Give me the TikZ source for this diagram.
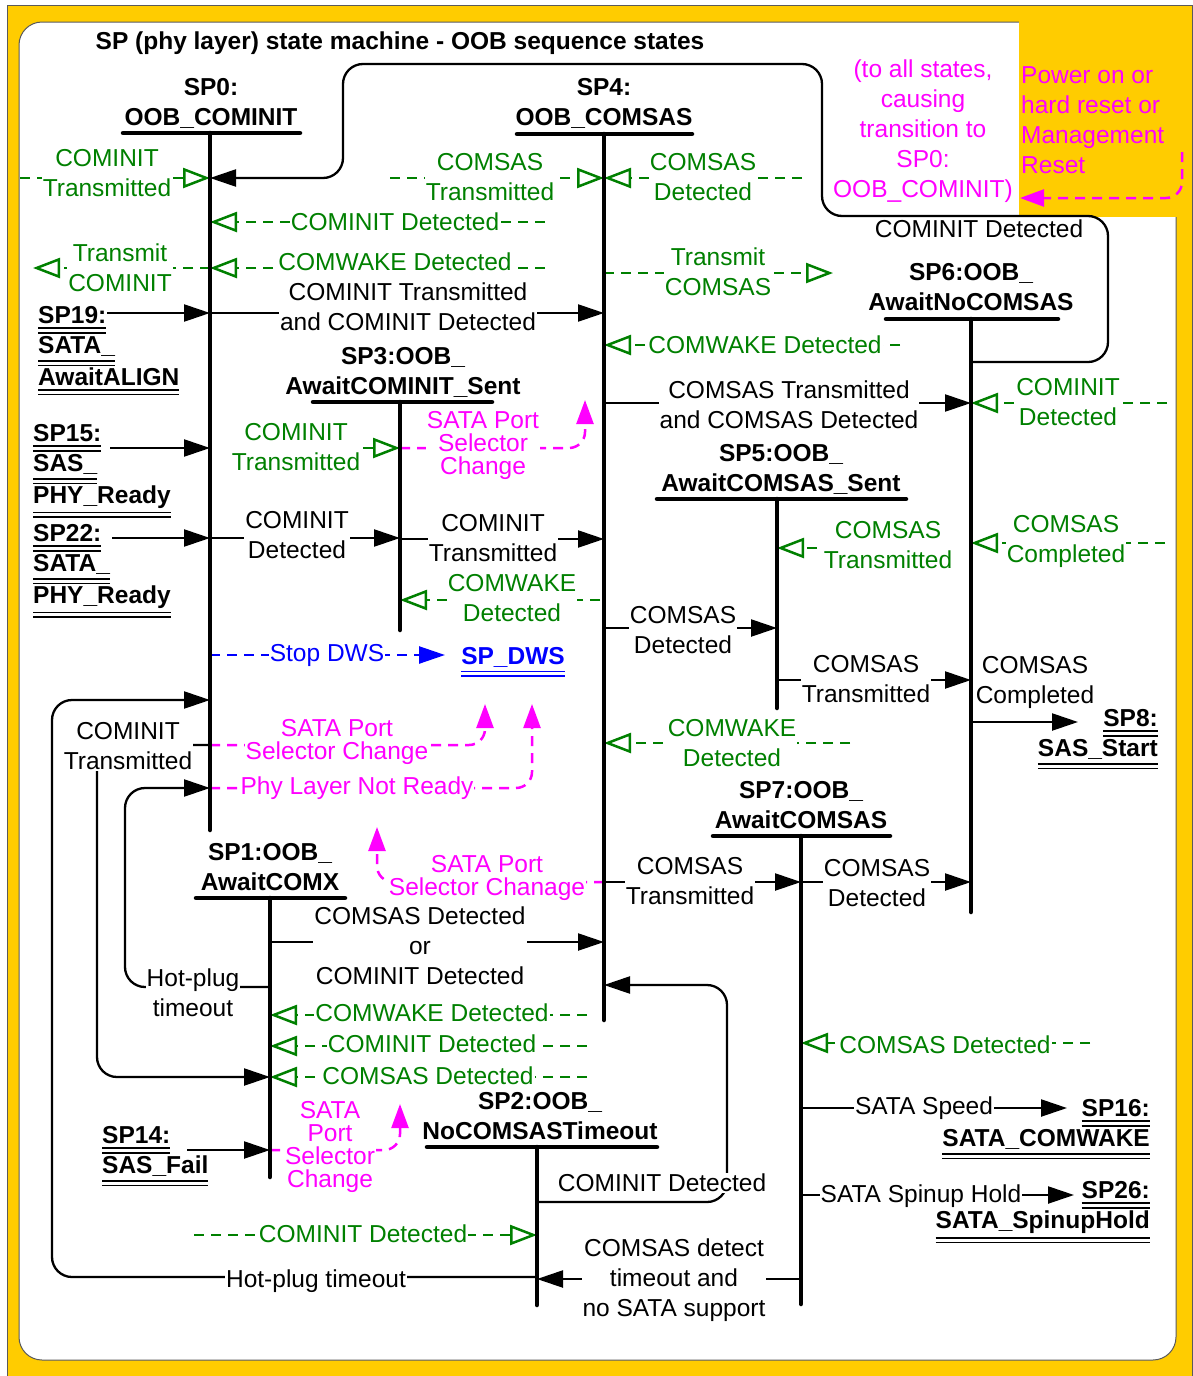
\documentclass[tikz,border=0pt]{standalone}
\usepackage{fontspec}
\setmainfont{Liberation Sans}
\usetikzlibrary{arrows.meta}
\definecolor{gold}{HTML}{FFCC00}
\definecolor{dgreen}{HTML}{008000}
\definecolor{mag}{HTML}{FF00FF}
\definecolor{blu}{HTML}{0000FF}
\definecolor{bord}{HTML}{5A5A5A}
\newcommand{\dul}[1]{\vtop{\hbox{#1}\kern3.6pt\hrule height 1.7pt\kern3pt\hrule height 1.7pt}}
\begin{document}
\begin{tikzpicture}[x=1pt,y=-1pt,
  txt/.style={font=\fontsize{24.5}{30}\selectfont, align=center, inner sep=1pt},
  lab/.style={txt, fill=white},
  glab/.style={lab, text=dgreen},
  mlab/.style={txt, fill=white, text=mag, font=\fontsize{24.5}{23}\selectfont},
  blab/.style={lab, text=blu},
  ttl/.style={txt, font=\fontsize{24.5}{30}\selectfont\bfseries},
  refn/.style={font=\fontsize{24.5}{30}\selectfont\bfseries, inner sep=0pt},
  sbar/.style={line width=4.5pt, line cap=round},
  conn/.style={line width=2.3pt, rounded corners=20pt, -{Triangle[length=26pt,width=17pt]}},
  gconn/.style={dgreen, line width=2.5pt, dash pattern=on 10pt off 7pt, -{Triangle[open,length=27pt,width=20pt]}},
  mconn/.style={mag, line width=2.5pt, dash pattern=on 10pt off 7pt, rounded corners=16pt, -{Triangle[length=24pt,width=17pt]}},
  bconn/.style={blu, line width=2.5pt, dash pattern=on 10pt off 7pt, -{Triangle[length=26pt,width=17pt]}},
]
\useasboundingbox (0,0) rectangle (1193,1376);
% background
\fill[white] (0,0) rectangle (1193,1376);
\draw[bord, fill=gold, line width=1pt] (7,5) rectangle (1192,1390);
\draw[bord, fill=white, line width=1pt, rounded corners=23pt] (19,22) rectangle (1176,1360);
\fill[gold] (1018.5,15) rectangle (1185,217);

% state coordinates (top of each state line)
\coordinate (s0) at (210,133);
\coordinate (s4) at (604,134);
\coordinate (s6) at (971,319);
\coordinate (s3) at (400,402);
\coordinate (s5) at (777,499);
\coordinate (s7) at (801,836);
\coordinate (s1) at (270,898);
\coordinate (s2) at (537,1147);

% title and notes
\node[ttl] (title) at (400,43) {SP (phy layer) state machine - OOB sequence states};
\node[txt, text=mag] (note) at (923,131) {(to all states,\\causing\\transition to\\SP0:\\OOB\_COMINIT)};
\node[txt, text=mag, align=left, anchor=north west, inner sep=0pt] (power) at (1021,66) {Power on or\\hard reset or\\Management\\Reset};
\draw[mconn] (1182,152) -- (1182,198) -- (1020,198);

% black connectors
\draw[conn] (s6 |- 0,362) -- (1108,362) -- (1108,216) -- (822,216) -- (822,64) -- (343,64) -- (343,178) -- (s0 |- 0,178);
\node[txt] (k1) at (979,229) {COMINIT Detected};

\draw[conn] (107,313) -- (s0 |- 0,313);
\draw[conn] (s0 |- 0,313) -- (s4 |- 0,313);
\node[lab] (k3) at (408,307) {COMINIT Transmitted\\and COMINIT Detected};
\draw[conn] (110,448) -- (s0 |- 0,448);
\draw[conn] (112,538) -- (s0 |- 0,538);
\draw[conn] (s0 |- 0,538) -- (s3 |- 0,538);
\node[lab] (k6) at (297,535) {COMINIT\\Detected};
\draw[conn] (s3 |- 0,539) -- (s4 |- 0,539);
\node[lab] (k7) at (493,538) {COMINIT\\Transmitted};

\draw[conn] (s4 |- 0,403) -- (s6 |- 0,403);
\node[lab] (k8) at (789,405) {COMSAS Transmitted\\and COMSAS Detected};
\draw[conn] (s4 |- 0,628) -- (s5 |- 0,628);
\node[lab] (k9) at (683,630) {COMSAS\\Detected};
\draw[conn] (s5 |- 0,680) -- (s6 |- 0,680);
\node[lab] (k10) at (866,679) {COMSAS\\Transmitted};
\draw[conn] (s6 |- 0,722) -- (1078,722);
\node[txt] (k11) at (1035,682) {COMSAS\\Completed};

\draw[conn] (s0 |- 0,745) -- (97,745) -- (97,1077) -- (s1 |- 0,1077);
\node[lab] (k12) at (128,746) {COMINIT\\Transmitted};
\draw[conn] (s1 |- 0,987) -- (125,987) -- (125,788) -- (s0 |- 0,788);
\node[lab] (k13) at (193,993) {Hot-plug\\timeout};
\draw[conn] (s2 |- 0,1277) -- (52,1277) -- (52,700) -- (s0 |- 0,700);
\node[lab] (k14) at (316,1281) {Hot-plug timeout};
\draw[conn] (s1 |- 0,942) -- (s4 |- 0,942);
\node[lab] (k15) at (420,946) {COMSAS Detected\\or\\COMINIT Detected};
\draw[conn] (s4 |- 0,882) -- (s7 |- 0,882);
\node[lab] (k16) at (690,881) {COMSAS\\Transmitted};
\draw[conn] (s7 |- 0,882) -- (s6 |- 0,882);
\node[lab] (k17) at (877,883) {COMSAS\\Detected};
\draw[conn] (187,1150) -- (s1 |- 0,1150);
\draw[conn] (s2 |- 0,1202) -- (727,1202) -- (727,985) -- (s4 |- 0,985);
\node[lab] (k18) at (662,1183) {COMINIT Detected};
\draw[conn] (s7 |- 0,1279) -- (s2 |- 0,1279);
\node[lab] (k19) at (674,1280) {COMSAS detect\\timeout and\\no SATA support};
\draw[conn] (s7 |- 0,1108) -- (1067,1108);
\node[lab] (k20) at (924,1108) {SATA Speed};
\draw[conn] (s7 |- 0,1195) -- (1074,1195);
\node[lab] (k21) at (921,1196) {SATA Spinup Hold};

% magenta connectors
\draw[mconn] (s3 |- 0,448) -- (585,448) -- (585,400);
\node[mlab] (m1) at (483,445) {SATA Port\\Selector\\Change};
\draw[mconn] (s0 |- 0,745) -- (485,745) -- (485,704);
\node[mlab] (m2) at (337,742) {SATA Port\\Selector Change};
\draw[mconn] (s0 |- 0,788) -- (532,788) -- (532,704);
\node[mlab] (m3) at (357,788) {Phy Layer Not Ready};
\draw[mconn] (s4 |- 0,882) -- (377,882) -- (377,827);
\node[mlab] (m4) at (487,878) {SATA Port\\Selector Chanage};
\draw[mconn] (s1 |- 0,1150) -- (400,1150) -- (400,1104);
\node[mlab] (m5) at (330,1147) {SATA\\Port\\Selector\\Change};

% blue
\draw[bconn] (s0 |- 0,655) -- (445,655);
\node[blab] (b1) at (327,655) {Stop DWS};
\node[refn, text=blu, anchor=base] (dws) at (513,664) {\dul{SP\_DWS}};

% green connectors
\draw[gconn] (20,178) -- (s0 |- 0,178);
\node[glab] (g1) at (107,173) {COMINIT\\Transmitted};
\draw[gconn] (390,178) -- (s4 |- 0,178);
\node[glab] (g2) at (490,177) {COMSAS\\Transmitted};
\draw[gconn] (802,178) -- (s4 |- 0,178);
\node[glab] (g3) at (703,177) {COMSAS\\Detected};
\draw[gconn] (545,222) -- (s0 |- 0,222);
\node[glab] (g4) at (395,222) {COMINIT Detected};
\draw[gconn] (545,268) -- (s0 |- 0,268);
\node[glab] (g5) at (395,262) {COMWAKE Detected};
\draw[gconn] (s0 |- 0,268) -- (33,268);
\node[glab] (g6) at (120,268) {Transmit\\COMINIT};
\draw[gconn] (s4 |- 0,273) -- (833,273);
\node[glab] (g7) at (718,272) {Transmit\\COMSAS};
\draw[gconn] (900,345) -- (s4 |- 0,345);
\node[glab] (g8) at (765,345) {COMWAKE Detected};
\draw[gconn] (1167,403) -- (s6 |- 0,403);
\node[glab] (g9) at (1068,402) {COMINIT\\Detected};
\draw[gconn] (363,448) -- (s3 |- 0,448);
\node[glab] (g10) at (296,447) {COMINIT\\Transmitted};
\draw[gconn] (600,600) -- (s3 |- 0,600);
\node[glab] (g11) at (512,598) {COMWAKE\\Detected};
\draw[gconn] (817,548) -- (s5 |- 0,548);
\node[glab] (g12) at (888,545) {COMSAS\\Transmitted};
\draw[gconn] (1165,543) -- (s6 |- 0,543);
\node[glab] (g13) at (1066,541) {COMSAS\\Completed};
\draw[gconn] (850,743) -- (s4 |- 0,743);
\node[glab] (g14) at (732,743) {COMWAKE\\Detected};
\draw[gconn] (587,1015) -- (s1 |- 0,1015);
\node[glab] (g15) at (432,1013) {COMWAKE Detected};
\draw[gconn] (587,1046) -- (s1 |- 0,1046);
\node[glab] (g16) at (432,1044) {COMINIT Detected};
\draw[gconn] (587,1077) -- (s1 |- 0,1077);
\node[glab] (g17) at (428,1076) {COMSAS Detected};
\draw[gconn] (1090,1043) -- (s7 |- 0,1043);
\node[glab] (g18) at (945,1045) {COMSAS Detected};
\draw[gconn] (194,1235) -- (s2 |- 0,1235);
\node[glab] (g19) at (363,1234) {COMINIT Detected};

% states
\node[ttl] (t0) at (211,103) {SP0:\\OOB\_COMINIT};
\draw[sbar] (123,133) -- (300,133);
\draw[sbar] (s0) -- (s0 |- 0,830);
\node[ttl] (t4) at (604,103) {SP4:\\OOB\_COMSAS};
\draw[sbar] (517,134) -- (692,134);
\draw[sbar] (s4) -- (s4 |- 0,1020);
\node[ttl] (t6) at (971,287) {SP6:OOB\_\\AwaitNoCOMSAS};
\draw[sbar] (886,319) -- (1058,319);
\draw[sbar] (s6) -- (s6 |- 0,912);
\node[ttl] (t3) at (403,372) {SP3:OOB\_\\AwaitCOMINIT\_Sent};
\draw[sbar] (313,402) -- (492,402);
\draw[sbar] (s3) -- (s3 |- 0,630);
\node[ttl] (t5) at (781,469) {SP5:OOB\_\\AwaitCOMSAS\_Sent};
\draw[sbar] (657,499) -- (906,499);
\draw[sbar] (s5) -- (s5 |- 0,708);
\node[ttl] (t7) at (801,805) {SP7:OOB\_\\AwaitCOMSAS};
\draw[sbar] (713,836) -- (890,836);
\draw[sbar] (s7) -- (s7 |- 0,1304);
\node[ttl] (t1) at (270,867) {SP1:OOB\_\\AwaitCOMX};
\draw[sbar] (196,898) -- (345,898);
\draw[sbar] (s1) -- (s1 |- 0,1177);
\node[ttl] (t2) at (540,1116) {SP2:OOB\_\\NoCOMSASTimeout};
\draw[sbar] (427,1147) -- (657,1147);
\draw[sbar] (s2) -- (s2 |- 0,1305);

% external state references
\node[refn, align=left, anchor=north west] (sp19) at (38,306) {\dul{SP19:}\\\dul{SATA\_}\\\dul{AwaitALIGN}};
\node[refn, align=left, anchor=north west] (sp15) at (33,424) {\dul{SP15:}\\\dul{SAS\_}\\\dul{PHY\_Ready}};
\node[refn, align=left, anchor=north west] (sp22) at (33,524) {\dul{SP22:}\\\dul{SATA\_}\\\dul{PHY\_Ready}};
\node[refn, align=left, anchor=north west] (sp14) at (102,1126) {\dul{SP14:}\\\dul{SAS\_Fail}};
\node[refn, align=right, anchor=north east] (sp8) at (1158,709) {\dul{SP8:}\\\dul{SAS\_Start}};
\node[refn, align=right, anchor=north east] (sp16) at (1150,1099) {\dul{SP16:}\\\dul{SATA\_COMWAKE}};
\node[refn, align=right, anchor=north east] (sp26) at (1150,1181) {\dul{SP26:}\\\dul{SATA\_SpinupHold}};
\end{tikzpicture}
\end{document}
